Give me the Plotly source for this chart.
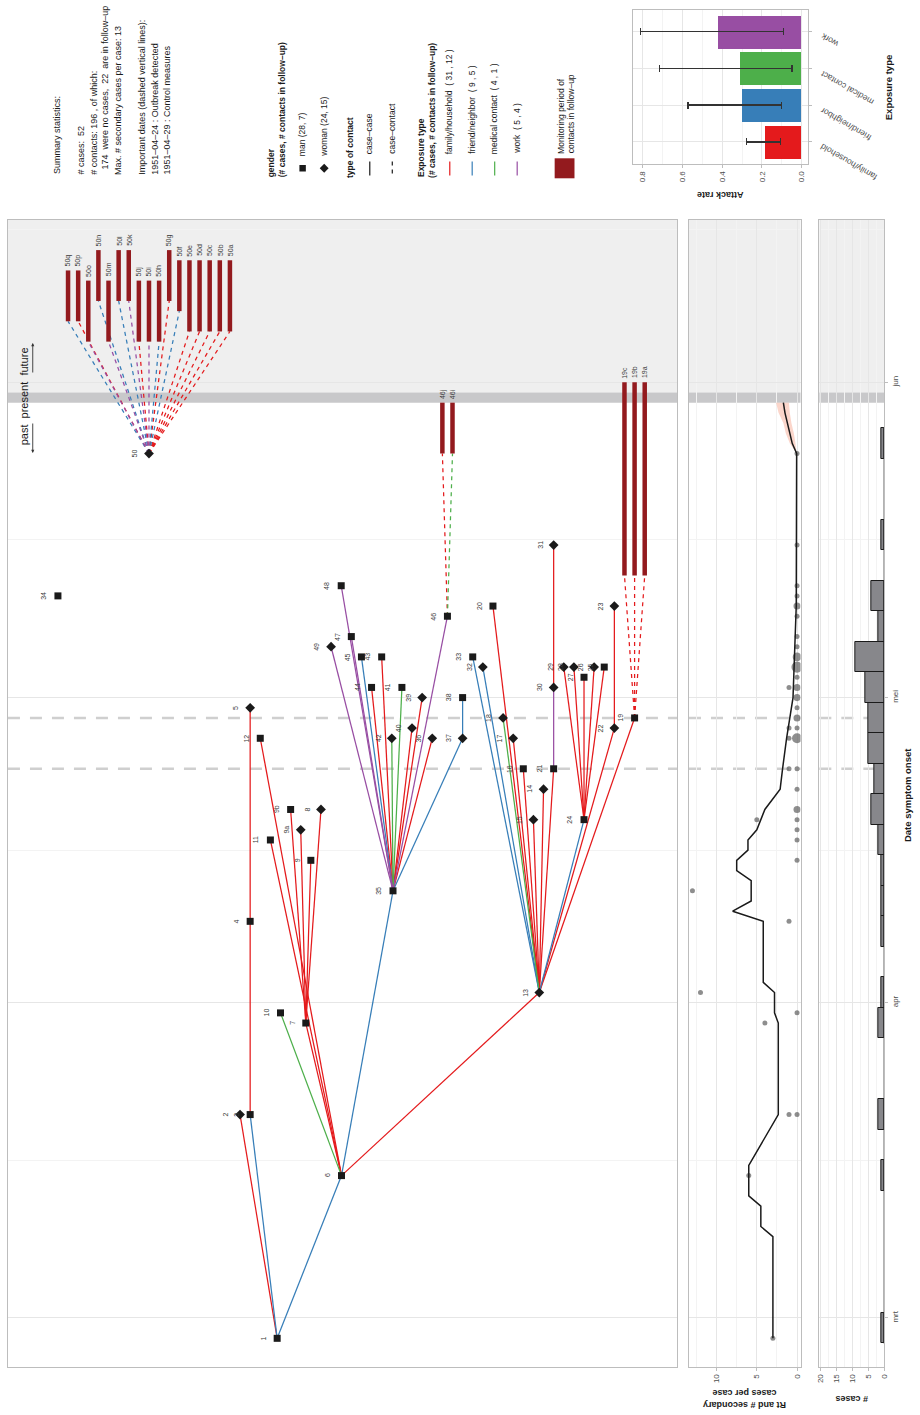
import pandas as pd
import plotly.graph_objects as go

W, H = 920, 1415
FONT = "Liberation Sans, Arial, Helvetica, sans-serif"

# ---------------- cases ----------------
case_id = ["1", "2", "3", "4", "5", "6", "7", "8", "9", "9a", "9b", "10", "11", "12",
           "13", "14", "15", "16", "17", "18", "19", "20", "21", "22", "23", "24", "25",
           "26", "27", "28", "29", "30", "31", "32", "33", "34", "35", "36", "37", "38",
           "39", "40", "41", "42", "43", "44", "45", "46", "47", "48", "49", "50"]
case_onset = ["1951-02-27", "1951-03-21", "1951-03-21", "1951-04-09", "1951-04-30",
              "1951-03-15", "1951-03-30", "1951-04-20", "1951-04-15", "1951-04-18",
              "1951-04-20", "1951-03-31", "1951-04-17", "1951-04-27", "1951-04-02",
              "1951-04-22", "1951-04-19", "1951-04-24", "1951-04-27", "1951-04-29",
              "1951-04-29", "1951-05-10", "1951-04-24", "1951-04-28", "1951-05-10",
              "1951-04-19", "1951-05-04", "1951-05-04", "1951-05-03", "1951-05-04",
              "1951-05-04", "1951-05-02", "1951-05-16", "1951-05-04", "1951-05-05",
              "1951-05-11", "1951-04-12", "1951-04-27", "1951-04-27", "1951-05-01",
              "1951-05-01", "1951-04-28", "1951-05-02", "1951-04-27", "1951-05-05",
              "1951-05-02", "1951-05-05", "1951-05-09", "1951-05-07", "1951-05-12",
              "1951-05-06", "1951-05-25"]
case_lane = [22.67, 19, 20, 20, 20, 29.03, 25.5, 27, 26, 25, 24, 23, 22, 21,
             48.58, 49, 48, 47, 46, 45, 58, 44, 50, 56, 56, 53, 55, 54, 53, 52, 51,
             50, 50, 43, 42, 1, 34.12, 38, 41, 41, 37, 36, 35, 34, 33, 32, 31, 39.5,
             30, 29, 28, 10]
case_gender = ["man", "woman", "man", "man", "woman", "man", "man", "woman", "man",
               "woman", "man", "man", "man", "man", "woman", "woman", "woman", "man",
               "woman", "woman", "man", "man", "man", "woman", "woman", "man", "man",
               "woman", "man", "woman", "woman", "woman", "woman", "woman", "man", "man",
               "man", "woman", "woman", "man", "woman", "woman", "man", "woman", "man",
               "man", "man", "man", "man", "man", "woman", "woman"]
case_infector = [None, "1", "1", "3", "4", "1", "6", "7", "7", "7", "7", "6", "6", "6",
                 "6", "13", "13", "13", "13", "13", "13", "13", "13", "13", "22", "13",
                 "24", "24", "24", "24", "24", "21", "30", "13", "13", None, "6", "35",
                 "35", "37", "35", "35", "35", "35", "35", "35", "35", "35", "35", "35",
                 "35", None]
case_exposure = [None, "family/household", "friend/neighbor", "family/household",
                 "family/household", "friend/neighbor", "family/household",
                 "family/household", "family/household", "family/household",
                 "family/household", "medical contact", "family/household",
                 "family/household", "family/household", "family/household",
                 "family/household", "family/household", "family/household",
                 "medical contact", "family/household", "family/household",
                 "family/household", "family/household", "family/household",
                 "friend/neighbor", "family/household", "family/household",
                 "family/household", "family/household", "family/household", "work",
                 "family/household", "friend/neighbor", "friend/neighbor", None,
                 "friend/neighbor", "family/household", "friend/neighbor",
                 "friend/neighbor", "family/household", "family/household",
                 "medical contact", "medical contact", "family/household",
                 "family/household", "friend/neighbor", "work", "work", "work", "work",
                 None]

# ---------------- contacts in follow-up ----------------
contact_id = ["19a", "19b", "19c", "46i", "46j", "50a", "50b", "50c", "50d", "50e",
              "50f", "50g", "50h", "50i", "50j", "50k", "50l", "50m", "50n", "50o",
              "50p", "50q"]
contact_source = ["19", "19", "19", "46", "46"] + ["50"] * 17
contact_exposure = ["family/household"] * 3 + ["medical contact", "family/household"] + \
    ["family/household"] * 5 + ["friend/neighbor", "family/household", "friend/neighbor",
                                 "work", "family/household", "work", "friend/neighbor",
                                 "work", "friend/neighbor", "work", "family/household",
                                 "friend/neighbor"]
contact_lane = [59, 58, 57, 40, 39, 18, 17, 16, 15, 14, 13, 12, 11, 10, 9, 8, 7, 6, 5,
                4, 3, 2]
monitor_start = ["1951-05-13"] * 3 + ["1951-05-25"] * 2 + ["1951-06-06"] * 5 + \
    ["1951-06-08", "1951-06-09", "1951-06-05", "1951-06-05", "1951-06-05", "1951-06-09",
     "1951-06-09", "1951-06-05", "1951-06-09", "1951-06-05", "1951-06-07", "1951-06-07"]
monitor_end = ["1951-06-01"] * 3 + ["1951-05-30"] * 2 + ["1951-06-13"] * 5 + \
    ["1951-06-13", "1951-06-14", "1951-06-11", "1951-06-11", "1951-06-11", "1951-06-14",
     "1951-06-14", "1951-06-11", "1951-06-14", "1951-06-11", "1951-06-12", "1951-06-12"]

# ---------------- Rt estimate ----------------
rt_date = ["1951-02-27", "1951-03-09", "1951-03-10", "1951-03-12", "1951-03-13",
           "1951-03-16", "1951-03-21", "1951-03-30", "1951-03-31", "1951-04-02",
           "1951-04-03", "1951-04-09", "1951-04-10", "1951-04-11", "1951-04-13",
           "1951-04-14", "1951-04-15", "1951-04-16", "1951-04-17", "1951-04-18",
           "1951-04-20", "1951-04-22", "1951-04-24", "1951-04-27", "1951-05-01",
           "1951-05-05", "1951-05-10", "1951-05-25"]
rt_value = [3.0, 3.0, 4.5, 4.5, 6.0, 6.0, 2.33, 2.33, 2.8, 2.8, 4.2, 4.2, 8.0, 5.7,
            5.7, 7.5, 7.5, 6.1, 6.1, 5.0, 4.0, 2.1, 1.8, 1.3, 0.5, 0.3, 0.1, 0.05]
rt_tail_date = ["1951-05-25", "1951-05-26", "1951-05-27", "1951-05-28", "1951-05-29",
                "1951-05-30"]
rt_tail_mid = [0.05, 0.6, 0.9, 1.2, 1.5, 1.7]
rt_tail_lo = [0.05, 0.2, 0.4, 0.7, 0.9, 1.0]
rt_tail_hi = [0.05, 0.9, 1.4, 1.7, 2.3, 2.6]

# ---------------- attack rate ----------------
exposure_types = ["family/household", "friend/neighbor", "medical contact", "work"]
attack_rate = [0.182, 0.300, 0.308, 0.417]
attack_low = [0.108, 0.103, 0.050, 0.093]
attack_high = [0.279, 0.572, 0.716, 0.810]

# ---------------- time axis ----------------
month_ticks = ["1951-03-01", "1951-04-01", "1951-05-01", "1951-06-01"]
month_labels = ["mrt", "apr", "mei", "jun"]
mid_month = ["1951-03-16 12:00", "1951-04-16", "1951-05-16 12:00", "1951-06-16"]
important_dates = ["1951-04-24", "1951-04-29"]
present_day = "1951-05-30"

EXPO_COLOR = {"family/household": "#E41A1C", "friend/neighbor": "#377EB8",
              "medical contact": "#4DAF4A", "work": "#984EA3"}
BAR_RED = "#931A1E"
INK = "#1A1A1A"
GRID = "#E6E6E6"
GRID_MINOR = "#F3F3F3"
BORDER = "#BDBDBD"


def fx(x):
    return x / W


def fy(y):
    return 1 - y / H


cases = pd.DataFrame({"id": case_id, "onset": pd.to_datetime(case_onset),
                      "lane": case_lane, "gender": case_gender,
                      "infector": case_infector, "exposure": case_exposure})
pos = cases.set_index("id")
contacts = pd.DataFrame({"id": contact_id, "source": contact_source,
                         "exposure": contact_exposure, "lane": contact_lane,
                         "start": pd.to_datetime(monitor_start),
                         "end": pd.to_datetime(monitor_end)})

fig = go.Figure()

# ---- transmission edges (case-case) ----
for expo, col in EXPO_COLOR.items():
    xs, ys = [], []
    for _, r in cases[cases.exposure == expo].iterrows():
        src = pos.loc[r.infector]
        xs += [src.lane, r.lane, None]
        ys += [src.onset, r.onset, None]
    fig.add_trace(go.Scatter(x=xs, y=ys, mode="lines", line=dict(color=col, width=1.25),
                             hoverinfo="skip", showlegend=False))

# ---- case-contact links ----
for expo, col in EXPO_COLOR.items():
    xs, ys = [], []
    for _, r in contacts[contacts.exposure == expo].iterrows():
        src = pos.loc[r.source]
        xs += [src.lane, r.lane, None]
        ys += [src.onset, r.start, None]
    if xs:
        fig.add_trace(go.Scatter(x=xs, y=ys, mode="lines",
                                 line=dict(color=col, width=1.25, dash="4px,4px"),
                                 hoverinfo="skip", showlegend=False))

# ---- monitoring periods ----
bx, by = [], []
for _, r in contacts.iterrows():
    bx += [r.lane, r.lane, None]
    by += [r.start, r.end, None]
fig.add_trace(go.Scatter(x=bx, y=by, mode="lines", line=dict(color=BAR_RED, width=4.5),
                         hoverinfo="skip", showlegend=False))

# ---- case nodes ----
for g, sym, sz in [("man", "square", 7), ("woman", "diamond", 7.5)]:
    sub = cases[cases.gender == g]
    fig.add_trace(go.Scatter(x=sub.lane, y=sub.onset, mode="markers",
                             marker=dict(symbol=sym, size=sz, color=INK),
                             hoverinfo="skip", showlegend=False))

annotations = []
for _, r in cases.iterrows():
    annotations.append(dict(x=r.lane, y=r.onset, xref="x", yref="y", text=r.id,
                            textangle=-90, showarrow=False, xshift=-14,
                            font=dict(size=7, color="#3A3A3A", family=FONT)))
for _, r in contacts.iterrows():
    annotations.append(dict(x=r.lane, y=r.end, xref="x", yref="y", text=r.id,
                            textangle=-90, showarrow=False, yanchor="bottom", yshift=2,
                            font=dict(size=7, color="#3A3A3A", family=FONT)))

# ---- Rt panel ----
fig.add_trace(go.Scatter(
    x=rt_tail_hi + rt_tail_lo[::-1],
    y=pd.to_datetime(rt_tail_date).tolist() + pd.to_datetime(rt_tail_date[::-1]).tolist(),
    fill="toself", fillcolor="rgba(248,180,160,0.55)", line=dict(width=0),
    mode="lines", xaxis="x2", yaxis="y2", hoverinfo="skip", showlegend=False))

secondary = cases.infector.value_counts()
cases["n_secondary"] = cases.id.map(secondary).fillna(0)
dots = cases.groupby(["onset", "n_secondary"]).size().reset_index(name="n")
fig.add_trace(go.Scatter(x=dots.n_secondary, y=dots.onset, mode="markers",
                         marker=dict(size=5 * dots.n ** 0.5, color="#5E5E5E",
                                     line=dict(width=0)),
                         xaxis="x2", yaxis="y2", hoverinfo="skip", showlegend=False))
fig.add_trace(go.Scatter(x=rt_value + rt_tail_mid[1:],
                         y=pd.to_datetime(rt_date + rt_tail_date[1:]),
                         mode="lines", line=dict(color=INK, width=1.5),
                         xaxis="x2", yaxis="y2", hoverinfo="skip", showlegend=False))

# ---- epicurve (3-day bins) ----
fig.add_trace(go.Histogram(y=cases.onset, orientation="h",
                           ybins=dict(start="1951-02-26 12:00", size=3 * 86400000),
                           marker=dict(color="#87878B", line=dict(color=INK, width=1)),
                           xaxis="x3", yaxis="y3", hoverinfo="skip", showlegend=False))
first = cases.onset.min() - pd.Timedelta(hours=12)
last = cases.onset.max() + pd.Timedelta(days=2, hours=12)
fig.add_trace(go.Scatter(x=[0, 0], y=[first, last], mode="lines",
                         line=dict(color=INK, width=1.2), xaxis="x3", yaxis="y3",
                         hoverinfo="skip", showlegend=False))

# ---- attack rate ----
fig.add_trace(go.Bar(
    x=attack_rate, y=exposure_types, orientation="h",
    marker=dict(color=[EXPO_COLOR[e] for e in exposure_types], line=dict(width=0)),
    width=0.9,
    error_x=dict(type="data", symmetric=False,
                 array=[h - v for h, v in zip(attack_high, attack_rate)],
                 arrayminus=[v - l for v, l in zip(attack_rate, attack_low)],
                 color="#333333", thickness=1.3, width=3.5),
    xaxis="x4", yaxis="y4", hoverinfo="skip", showlegend=False))

# ---------------- axes ----------------
d0 = pd.Timestamp("1951-03-01")
y_range = [d0 + pd.Timedelta(days=-4.82), d0 + pd.Timedelta(days=107.96)]
y_dom = [fy(1367), fy(220)]

date_axis = dict(type="date", range=y_range, domain=y_dom, tickvals=month_ticks,
                 showgrid=True, gridcolor=GRID, gridwidth=1, zeroline=False,
                 minor=dict(tickvals=mid_month, showgrid=True, gridcolor=GRID_MINOR,
                            gridwidth=1),
                 showline=True, mirror=True, linecolor=BORDER, linewidth=1)

fig.update_layout(
    width=W, height=H, margin=dict(l=0, r=0, t=0, b=0), autosize=False,
    paper_bgcolor="white", plot_bgcolor="rgba(0,0,0,0)",
    font=dict(family=FONT, color=INK),
    xaxis=dict(domain=[fx(5), fx(680)], range=[-3.94, 62.2], showgrid=False,
               zeroline=False, showticklabels=False, ticks="",
               showline=True, mirror=True, linecolor=BORDER),
    yaxis=dict(**date_axis, showticklabels=False, ticks=""),
    xaxis2=dict(domain=[fx(692), fx(804.5)], range=[13.43, -0.43], anchor="y2",
                tickvals=[0, 5, 10], ticks="outside", ticklen=3, tickcolor=BORDER,
                tickangle=-90, tickfont=dict(size=8, color="#4D4D4D"),
                showgrid=True, gridcolor=GRID, zeroline=False,
                minor=dict(tickvals=[2.5, 7.5, 12.5], showgrid=True, gridcolor=GRID_MINOR),
                showline=True, mirror=True, linecolor=BORDER),
    yaxis2=dict(**date_axis, anchor="x2", matches="y", showticklabels=False, ticks=""),
    xaxis3=dict(domain=[fx(823.5), fx(889)], range=[20.47, 0], anchor="y3",
                tickvals=[0, 5, 10, 15, 20], ticks="outside", ticklen=3, tickcolor=BORDER,
                tickangle=-90, tickfont=dict(size=8, color="#4D4D4D"),
                showgrid=True, gridcolor=GRID, zeroline=False,
                minor=dict(tickvals=[2.5, 7.5, 12.5, 17.5], showgrid=True,
                           gridcolor=GRID_MINOR),
                showline=True, mirror=True, linecolor=BORDER),
    yaxis3=dict(**date_axis, anchor="x3", matches="y", side="right",
                ticktext=month_labels, ticks="outside", ticklen=3, tickcolor=BORDER,
                tickangle=-90, tickfont=dict(size=8, color="#4D4D4D")),
    xaxis4=dict(domain=[fx(636), fx(812.5)], range=[0.845, -0.033], anchor="y4",
                tickvals=[0, 0.2, 0.4, 0.6, 0.8], ticktext=["0.0", "0.2", "0.4", "0.6", "0.8"],
                ticks="outside", ticklen=3, tickcolor=BORDER, tickangle=-90,
                tickfont=dict(size=8, color="#4D4D4D"),
                showgrid=True, gridcolor=GRID, zeroline=False,
                minor=dict(tickvals=[0.1, 0.3, 0.5, 0.7], showgrid=True,
                           gridcolor=GRID_MINOR),
                showline=True, mirror=True, linecolor=BORDER),
    yaxis4=dict(domain=[fy(164), fy(9.5)], anchor="x4", type="category",
                categoryorder="array", categoryarray=exposure_types, range=[-0.6, 3.6],
                side="right", ticks="outside", ticklen=3, tickcolor=BORDER,
                showticklabels=False, showgrid=True, gridcolor=GRID,
                showline=True, mirror=True, linecolor=BORDER),
    bargap=0,
)

# ---------------- shapes ----------------
shapes = []
future_start = pd.Timestamp(present_day) + pd.Timedelta(days=1)
for xr, yr in [("x domain", "y"), ("x2 domain", "y2"), ("x3 domain", "y3")]:
    shapes.append(dict(type="rect", xref=xr, yref=yr, x0=0, x1=1, y0=future_start,
                       y1=y_range[1], fillcolor="#EFEFEF", line=dict(width=0),
                       layer="below"))
    shapes.append(dict(type="rect", xref=xr, yref=yr, x0=0, x1=1, y0=present_day,
                       y1=future_start, fillcolor="#C8C8CA",
                       line=dict(width=0), layer="below"))
    for d in important_dates:
        shapes.append(dict(type="line", xref=xr, yref=yr, x0=0, x1=1, y0=d, y1=d,
                           line=dict(color="#CFCFCF", width=2.5, dash="12px,10px"),
                           layer="below"))

# legend keys
shapes.append(dict(type="rect", xref="paper", yref="paper", x0=fx(299), x1=fx(305.5),
                   y0=fy(171.5), y1=fy(165), fillcolor=INK, line=dict(width=0)))
shapes.append(dict(type="path", xref="paper", yref="paper",
                   path=f"M {fx(324)},{fy(163.8)} L {fx(328.5)},{fy(168.3)} "
                        f"L {fx(324)},{fy(172.8)} L {fx(319.5)},{fy(168.3)} Z",
                   fillcolor=INK, line=dict(width=0)))
shapes.append(dict(type="line", xref="paper", yref="paper", x0=fx(370), x1=fx(370),
                   y0=fy(161.5), y1=fy(175.5), line=dict(color=INK, width=1.2)))
shapes.append(dict(type="line", xref="paper", yref="paper", x0=fx(392.7), x1=fx(392.7),
                   y0=fy(161.5), y1=fy(175.5), line=dict(color=INK, width=1.2,
                                                         dash="4px,4px")))
for xk, expo in zip([450.7, 473.3, 496, 518.7], exposure_types):
    shapes.append(dict(type="line", xref="paper", yref="paper", x0=fx(xk), x1=fx(xk),
                       y0=fy(161.5), y1=fy(175.5),
                       line=dict(color=EXPO_COLOR[expo], width=1.2)))
shapes.append(dict(type="rect", xref="paper", yref="paper", x0=fx(556.5), x1=fx(576.5),
                   y0=fy(178.3), y1=fy(158.3), fillcolor=BAR_RED, line=dict(width=0)))


def vtext(x, y, text, size=9, color=INK, yanchor="bottom", angle=-90, bold=False):
    annotations.append(dict(x=fx(x), y=fy(y), xref="paper", yref="paper",
                            text=f"<b>{text}</b>" if bold else text, textangle=angle,
                            showarrow=False, xanchor="center", yanchor=yanchor,
                            font=dict(size=size, color=color, family=FONT)))


# summary statistics
n_cases = len(cases)
n_follow = len(contacts)
summary_lines = [(54, "Summary statistics:"),
                 (78.3, f"# cases:  {n_cases}"),
                 (91, "# contacts: 196 , of which:"),
                 (103.3, f"  174  were no cases,  {n_follow}  are in follow\u2013up"),
                 (116, f"Max. # secondary cases per case: {int(secondary.max())}"),
                 (140, "Important dates (dashed vertical lines):"),
                 (152.7, "1951\u201304\u201324 : Outbreak detected"),
                 (165, "1951\u201304\u201329 : Control measures")]
for x, t in summary_lines:
    vtext(x, 176.5, t, size=9)

# legend text
vtext(270.7, 179.5, "gender", size=8.5, bold=True)
vtext(281.7, 179.5, "(# cases, # contacts in follow\u2013up)", size=8.5, bold=True)
vtext(302.3, 158.5, "man (28, 7)", size=8.5)
vtext(324, 158.5, "woman (24, 15)", size=8.5)
vtext(350, 179.5, "type of contact", size=8.5, bold=True)
vtext(370, 156, "case\u2013case", size=8.5)
vtext(392.7, 156, "case\u2013contact", size=8.5)
vtext(421.7, 179.5, "Exposure type", size=8.5, bold=True)
vtext(432.7, 179.5, "(# cases, # contacts in follow\u2013up)", size=8.5, bold=True)
for xk, t in zip([450.7, 473.3, 496, 518.7],
                 ["family/household  ( 31 , 12 )", "friend/neighbor  ( 9 , 5 )",
                  "medical contact  ( 4 , 1 )", "work  ( 5 , 4 )"]):
    vtext(xk, 156, t, size=8.5)
vtext(563.3, 155.5, "Monitoring period of", size=8.5)
vtext(573.3, 155.5, "contacts in follow\u2013up", size=8.5)

# past / present / future
vtext(21, 396.5, "past  present  future", size=11, yanchor="middle")
annotations.append(dict(x=fx(30), y=fy(343), xref="paper", yref="paper", text="",
                        showarrow=True, ax=0, ay=31, axref="pixel", ayref="pixel",
                        arrowhead=2, arrowsize=0.7, arrowwidth=0.9, arrowcolor="#333333"))
annotations.append(dict(x=fx(30), y=fy(453), xref="paper", yref="paper", text="",
                        showarrow=True, ax=0, ay=-31, axref="pixel", ayref="pixel",
                        arrowhead=2, arrowsize=0.7, arrowwidth=0.9, arrowcolor="#333333"))

# axis titles
vtext(912, 795, "Date symptom onset", size=9.5, yanchor="middle", bold=True)
vtext(748, 1399, "Rt and # secondary<br>cases per case", size=9, yanchor="middle",
      angle=180, bold=True)
vtext(856, 1399, "# cases", size=9, yanchor="middle", angle=180, bold=True)
vtext(723, 195, "Attack rate", size=9, yanchor="middle", angle=180, bold=True)
vtext(894, 88, "Exposure type", size=9.5, yanchor="middle", bold=True)

# exposure tick labels on the attack-rate panel
for e in exposure_types:
    annotations.append(dict(x=fx(820), y=e, xref="paper", yref="y4", text=e,
                            textangle=-150, showarrow=False, xanchor="left",
                            yanchor="top", yshift=3,
                            font=dict(size=8.5, color="#4D4D4D", family=FONT)))

fig.update_layout(shapes=shapes, annotations=annotations)
fig.write_html("out.html", config={"displayModeBar": False},
               post_script="document.body.style.margin='0';")
